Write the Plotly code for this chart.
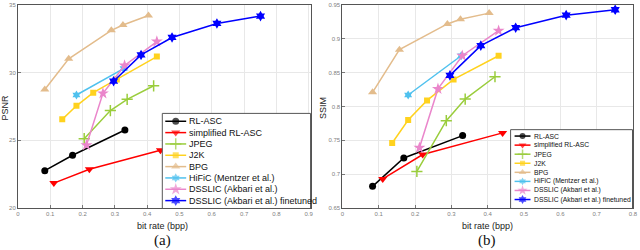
import plotly.graph_objects as go

# ---------------- data ----------------
names = ["RL-ASC", "simplified RL-ASC", "JPEG", "J2K", "BPG",
         "HiFiC (Mentzer et al.)", "DSSLIC (Akbari et al.)",
         "DSSLIC (Akbari et al.) finetuned"]

rl_x = [0.083, 0.169, 0.331]
rl_psnr = [22.76, 23.90, 25.76]
rl_ssim = [0.682, 0.724, 0.757]

srl_x = [0.111, 0.221, 0.441]
srl_psnr = [21.84, 22.86, 24.27]
srl_ssim = [0.693, 0.729, 0.761]

jpeg_x = [0.205, 0.286, 0.338, 0.420]
jpeg_psnr = [25.12, 27.20, 28.03, 29.03]
jpeg_ssim = [0.704, 0.779, 0.811, 0.844]

j2k_x = [0.137, 0.181, 0.233, 0.306, 0.430]
j2k_psnr = [26.55, 27.55, 28.52, 29.49, 31.19]
j2k_ssim = [0.746, 0.780, 0.809, 0.840, 0.875]

bpg_x = [0.083, 0.157, 0.289, 0.325, 0.404]
bpg_psnr = [28.76, 31.02, 33.13, 33.52, 34.22]
bpg_ssim = [0.821, 0.884, 0.922, 0.929, 0.938]

hific_x = [0.181, 0.327]
hific_psnr = [28.35, 30.30]
hific_ssim = [0.817, 0.875]

dsslic_x = [0.212, 0.263, 0.330, 0.430]
dsslic_psnr = [24.64, 28.47, 30.53, 32.30]
dsslic_ssim = [0.739, 0.826, 0.875, 0.912]

ft_x = [0.296, 0.381, 0.477, 0.616, 0.751]
ft_psnr = [29.37, 31.31, 32.60, 33.64, 34.18]
ft_ssim = [0.846, 0.890, 0.9165, 0.935, 0.943]

psnr_ticks = [20, 25, 30, 35]
ssim_ticks = [0.65, 0.7, 0.75, 0.8, 0.85, 0.9, 0.95]
psnr_xticks = [0, 0.1, 0.2, 0.3, 0.4, 0.5, 0.6, 0.7, 0.8, 0.9]
ssim_xticks = [0, 0.1, 0.2, 0.3, 0.4, 0.5, 0.6, 0.7, 0.8]

# ---------------- styles ----------------
colors = ["#000000", "#FF0000", "#9ACD3C", "#FFD21E", "#E3BC8C",
          "#4FC1EE", "#EA86CB", "#0000FF"]
symbols = ["circle", "triangle-down", "cross-thin", "square", "triangle-up",
           "hexagram", "star", "hexagram"]
sizes = [7, 8, 8, 6, 8, 7, 9, 8]

series_x = [rl_x, srl_x, jpeg_x, j2k_x, bpg_x, hific_x, dsslic_x, ft_x]
series_psnr = [rl_psnr, srl_psnr, jpeg_psnr, j2k_psnr, bpg_psnr, hific_psnr, dsslic_psnr, ft_psnr]
series_ssim = [rl_ssim, srl_ssim, jpeg_ssim, j2k_ssim, bpg_ssim, hific_ssim, dsslic_ssim, ft_ssim]

W, H = 640, 250
ML, MR, MT, MB = 18, 4, 2, 42
PW, PH = W - ML - MR, H - MT - MB


def px2paper_x(px):
    return (px - ML) / PW


def px2paper_y(py):
    return (H - MB - py) / PH


fig = go.Figure()


def mk(marker_symbol, color, size):
    line = dict(width=1.5, color=color) if "thin" in marker_symbol else dict(width=0)
    return dict(symbol=marker_symbol, color=color, size=size, line=line)


for i in range(len(names)):
    fig.add_trace(go.Scatter(x=series_x[i], y=series_psnr[i], mode="lines+markers",
                             line=dict(color=colors[i], width=1.5),
                             marker=mk(symbols[i], colors[i], sizes[i]),
                             xaxis="x", yaxis="y", showlegend=False, name=names[i]))
for i in range(len(names)):
    fig.add_trace(go.Scatter(x=series_x[i], y=series_ssim[i], mode="lines+markers",
                             line=dict(color=colors[i], width=1.5),
                             marker=mk(symbols[i], colors[i], sizes[i]),
                             xaxis="x2", yaxis="y2", showlegend=False, name=names[i]))

# ---------------- custom legends (overlay axis in pixel units) ----------------
annotations = []


def draw_legend(box, row0, dy, line_x, text_x, fsize, msize_scale):
    l, t, r, b = box
    fig.add_trace(go.Scatter(x=[l, r, r, l, l], y=[t, t, b, b, t], mode="lines",
                             fill="toself", fillcolor="white",
                             line=dict(color="#555555", width=1),
                             xaxis="x3", yaxis="y3", showlegend=False, hoverinfo="skip"))
    for k in range(len(names)):
        yy = row0 + k * dy
        xm = (line_x[0] + line_x[1]) / 2
        fig.add_trace(go.Scatter(x=[line_x[0], xm, line_x[1]], y=[yy, yy, yy],
                                 mode="lines+markers",
                                 line=dict(color=colors[k], width=1.5),
                                 marker=dict(symbol=symbols[k], color=colors[k],
                                             size=[0, sizes[k] * msize_scale, 0],
                                             line=dict(width=1.5, color=colors[k]) if "thin" in symbols[k] else dict(width=0)),
                                 xaxis="x3", yaxis="y3", showlegend=False, hoverinfo="skip"))
        annotations.append(dict(x=text_x, y=yy, xref="x3", yref="y3", text=names[k],
                                showarrow=False, xanchor="left", yanchor="middle",
                                font=dict(family="Liberation Sans, Arial", size=fsize, color="#111")))


draw_legend((163, 112, 312, 208.5), 120, 11.5, (166, 187), 188, 9, 1.0)
draw_legend((513, 128.5, 635.5, 208.5), 135, 9.2, (517, 533), 534, 6.8, 0.85)

axis_common = dict(showgrid=True, gridcolor="#E8E8E8", gridwidth=1, zeroline=False,
                   showline=True, linecolor="#555555", linewidth=1, mirror=True,
                   ticks="inside", ticklen=3, tickcolor="#777777",
                   ticklabeloverflow="allow",
                   tickfont=dict(family="Liberation Sans, Arial", size=6, color="#808080"))

fig.update_layout(
    width=W, height=H,
    margin=dict(l=ML, r=MR, t=MT, b=MB),
    paper_bgcolor="white", plot_bgcolor="rgba(0,0,0,0)",
    xaxis=dict(domain=[0, px2paper_x(312)], range=[0, 0.906], tickvals=psnr_xticks,
               ticktext=[("%g" % v) for v in psnr_xticks], anchor="y", **axis_common),
    yaxis=dict(domain=[0, 1], range=[20, 35], tickvals=psnr_ticks, anchor="x", **axis_common),
    xaxis2=dict(domain=[px2paper_x(344), 1], range=[0, 0.8], tickvals=ssim_xticks,
                ticktext=[("%g" % v) for v in ssim_xticks], anchor="y2", **axis_common),
    yaxis2=dict(domain=[0, 1], range=[0.65, 0.95], tickvals=ssim_ticks, anchor="x2",
                ticktext=[("%g" % v) for v in ssim_ticks], **axis_common),
    xaxis3=dict(domain=[0, 1], range=[ML, W - MR], visible=False, anchor="y3", fixedrange=True),
    yaxis3=dict(domain=[0, 1], range=[H - MB, MT], visible=False, anchor="x3", fixedrange=True),
)

lab_font = dict(family="Liberation Sans, Arial", size=9, color="#222")
serif_font = dict(family="Liberation Serif, Times New Roman", size=15, color="#111")


def pa(px, py, text, font, angle=0):
    return dict(x=px2paper_x(px), y=px2paper_y(py), xref="paper", yref="paper", text=text,
                showarrow=False, font=font, xanchor="center", yanchor="middle", textangle=angle)


annotations += [
    pa(163, 226, "bit rate (bpp)", lab_font),
    pa(490, 226.5, "bit rate (bpp)", lab_font),
    pa(5, 106, "PSNR", lab_font, -90),
    pa(325, 107, "SSIM", lab_font, -90),
    pa(163, 241, "(a)", serif_font),
    pa(489, 241, "(b)", serif_font),
]
fig.update_layout(annotations=annotations)

fig.write_html("out.html", config={"displayModeBar": False},
               post_script="document.body.style.margin='0';")
